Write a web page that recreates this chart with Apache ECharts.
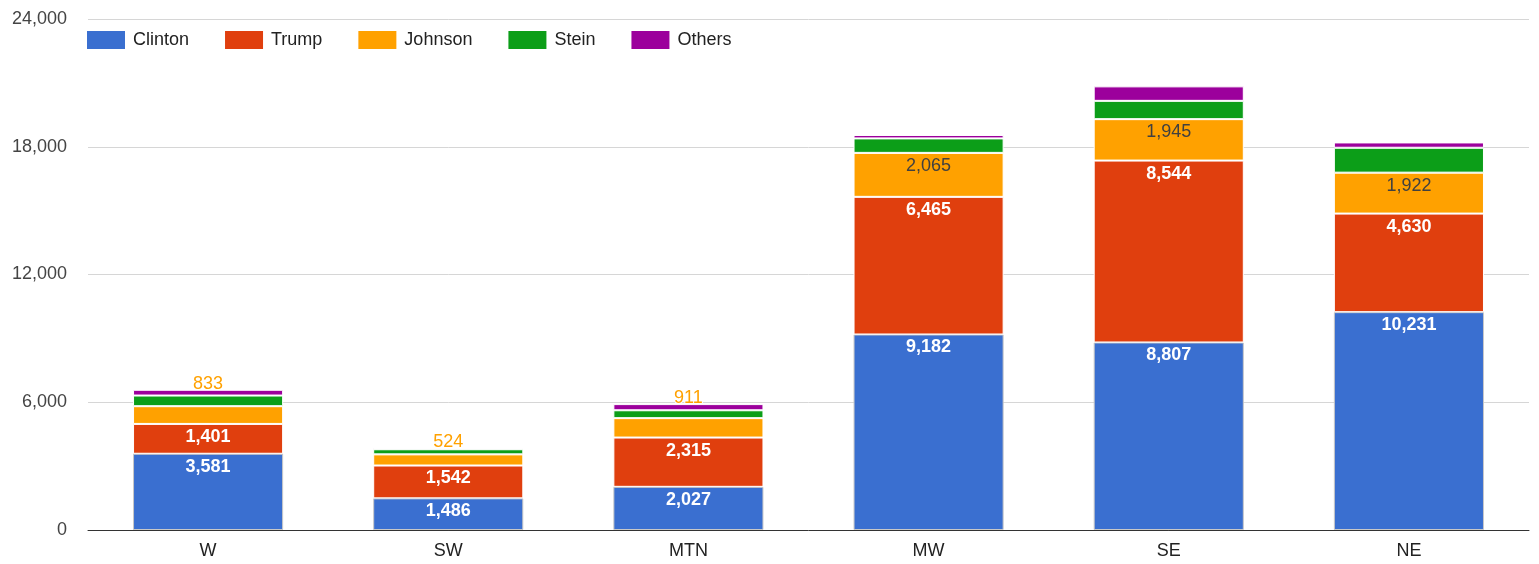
<!DOCTYPE html>
<html>
<head>
  <meta charset="utf-8">
  <title>Votes by region</title>
  <script src="https://cdn.jsdelivr.net/npm/echarts@6/dist/echarts.min.js"></script>
  <style>
    html, body { margin: 0; padding: 0; background: #fff; }
    #main { width: 1539px; height: 564px; }
  </style>
</head>
<body>
  <div id="main"></div>
  <script type="text/javascript">
    // regions and votes per candidate
    var regions = ['W', 'SW', 'MTN', 'MW', 'SE', 'NE'];
    var clinton = [3581, 1486, 2027, 9182, 8807, 10231];
    var trump = [1401, 1542, 2315, 6465, 8544, 4630];
    var johnson = [833, 524, 911, 2065, 1945, 1922];
    var stein = [500, 240, 370, 680, 860, 1170];
    var others = [270, 60, 290, 160, 680, 250];
    var yTicks = [0, 6000, 12000, 18000, 24000];

    var names = ['Clinton', 'Trump', 'Johnson', 'Stein', 'Others'];
    var colors = ['#3a6fd0', '#e03f0e', '#ffa100', '#0c9e18', '#9c009c'];
    var fontFam = 'Arial, "Liberation Sans", sans-serif';

    function fmt(v) {
      return v.toLocaleString('en-US');
    }

    var myChart = echarts.init(document.getElementById('main'));

    function insideLabel(color, weight) {
      return {
        show: true,
        position: 'insideTop',
        distance: 4,
        color: color,
        fontSize: 18,
        fontWeight: weight,
        fontFamily: fontFam,
        formatter: function (p) { return fmt(p.value); }
      };
    }

    var option = {
      animation: false,
      color: colors,
      legend: {
        left: 82,
        top: 26,
        itemWidth: 38,
        itemHeight: 18,
        itemGap: 36,
        icon: 'rect',
        itemStyle: { borderWidth: 0 },
        textStyle: { fontSize: 18, color: '#222', fontFamily: fontFam, padding: [0, 0, 0, 3] },
        data: names
      },
      grid: { left: 88, right: 10, top: 19, bottom: 34 },
      xAxis: {
        type: 'category',
        data: regions,
        axisTick: { show: false },
        axisLine: { lineStyle: { color: '#333', width: 1 } },
        axisLabel: { fontSize: 18, color: '#222', margin: 12, fontFamily: fontFam }
      },
      yAxis: {
        type: 'value',
        min: yTicks[0],
        max: yTicks[yTicks.length - 1],
        interval: 6000,
        axisLine: { show: false },
        axisTick: { show: false },
        splitLine: { lineStyle: { color: '#d6d6d6' } },
        axisLabel: {
          fontSize: 18, color: '#444', margin: 21, fontFamily: fontFam,
          formatter: function (v) { return fmt(v); }
        }
      },
      series: [
        {
          name: 'Clinton', type: 'bar', stack: 'all', data: clinton, barWidth: '62.5%',
          itemStyle: { borderColor: '#c8c8c8', borderWidth: 1 },
          label: insideLabel('#fff', 'bold')
        },
        {
          name: 'Trump', type: 'bar', stack: 'all', data: trump,
          itemStyle: { borderColor: '#fff', borderWidth: 1 },
          label: insideLabel('#fff', 'bold')
        },
        {
          name: 'Johnson', type: 'bar', stack: 'all', data: johnson,
          itemStyle: { borderColor: '#fff', borderWidth: 1 },
          label: {
            show: true, position: 'insideTop', distance: 4, color: '#404040',
            fontSize: 18, fontFamily: fontFam,
            formatter: function (p) { return p.value >= 1000 ? fmt(p.value) : ''; }
          }
        },
        {
          name: 'Stein', type: 'bar', stack: 'all', data: stein,
          itemStyle: { borderColor: '#fff', borderWidth: 1 }
        },
        {
          // small Johnson values are labelled above the stack
          name: 'Others', type: 'bar', stack: 'all', data: others,
          itemStyle: { borderColor: '#fff', borderWidth: 1 },
          label: {
            show: true, position: 'top', distance: -3, color: '#ffa100',
            fontSize: 18, fontFamily: fontFam,
            textBorderColor: '#fff', textBorderWidth: 2,
            formatter: function (p) {
              var j = johnson[p.dataIndex];
              return j < 1000 ? fmt(j) : '';
            }
          }
        }
      ]
    };
    myChart.setOption(option);
  </script>
</body>
</html>
